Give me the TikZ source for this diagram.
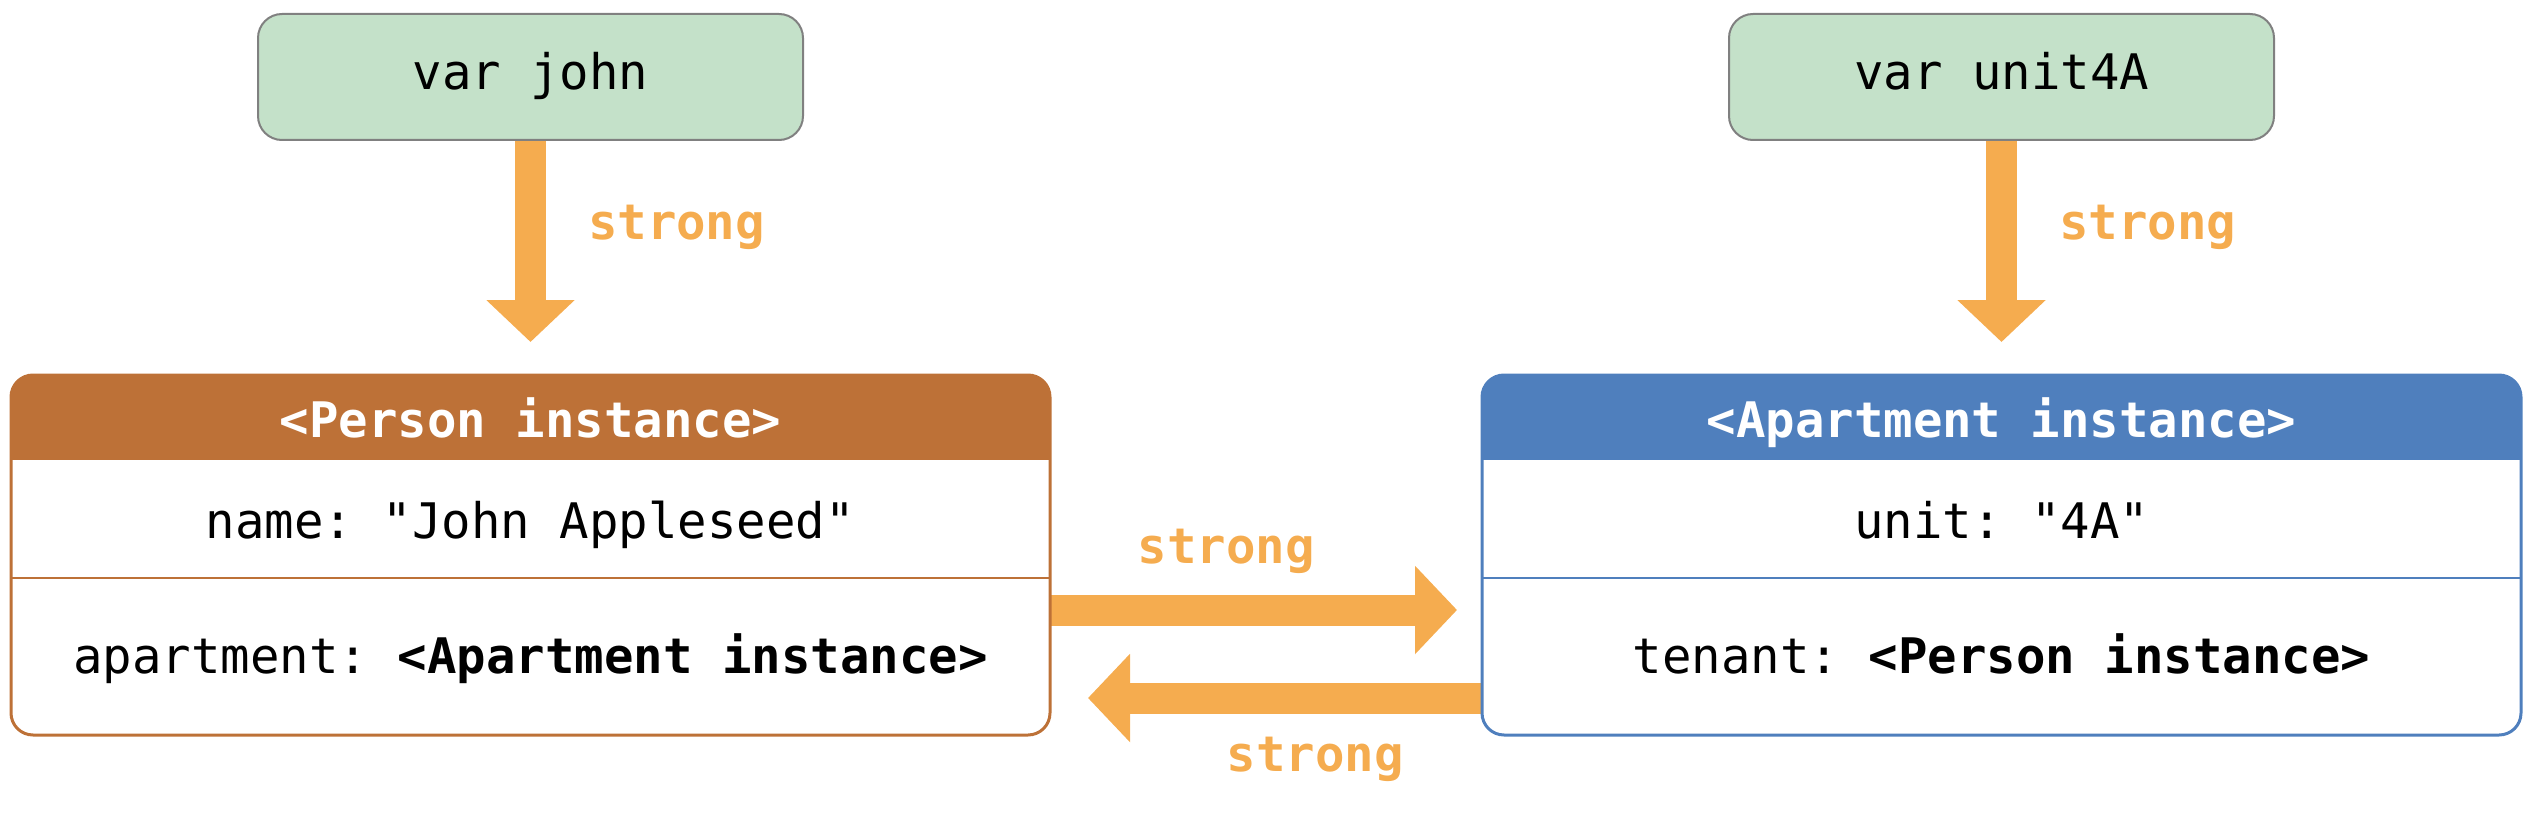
\documentclass[tikz,border=0pt]{standalone}
\usepackage{fontspec}
\setmonofont{DejaVu Sans Mono}
\usetikzlibrary{arrows.meta,calc,backgrounds}
\definecolor{vgreen}{HTML}{C4E1C9}
\definecolor{vgray}{HTML}{808080}
\definecolor{aorange}{HTML}{F5AC4F}
\definecolor{pbrown}{HTML}{BD7137}
\definecolor{ablue}{HTML}{4F7FBD}
\begin{document}
\begin{tikzpicture}[x=1pt,y=-1pt,
  every node/.style={font=\ttfamily\fontsize{49}{58}\selectfont, inner sep=0pt, outer sep=0pt},
  varbox/.style={draw=vgray, line width=2pt, fill=vgreen, rounded corners=24pt, minimum width=545pt, minimum height=126pt, text height=36pt, text depth=11pt},
  objbox/.style={line width=3pt, rounded corners=22pt, minimum width=1039pt, minimum height=360pt},
  ref/.style={draw=aorange, line width=31pt, -{Triangle[width=86pt,length=42pt]}},
  lbl/.style={text=aorange, font=\ttfamily\bfseries\fontsize{49}{58}\selectfont},
  hdr/.style={text=white, anchor=base, font=\ttfamily\bfseries\fontsize{49}{58}\selectfont},
  row/.style={anchor=base},
]
\useasboundingbox (0,0) rectangle (2532,832);
\node[varbox] (john) at (530.5,77) {var john};
\node[varbox] (unit) at (2001.5,77) {var unit4A};
\node[objbox] (person) at (530.5,555) {};
\node[objbox] (apt) at (2001.5,555) {};
% headers
\begin{scope}
\clip[rounded corners=22pt] (person.north west) rectangle (person.south east);
\fill[pbrown] (person.north west) rectangle ($(person.north east)+(0,85)$);
\end{scope}
\begin{scope}
\clip[rounded corners=22pt] (apt.north west) rectangle (apt.south east);
\fill[ablue] (apt.north west) rectangle ($(apt.north east)+(0,85)$);
\end{scope}
\draw[pbrown, line width=3pt, rounded corners=22pt] (person.north west) rectangle (person.south east);
\draw[ablue, line width=3pt, rounded corners=22pt] (apt.north west) rectangle (apt.south east);
\draw[pbrown, line width=2.5pt] ($(person.north west)+(0,203)$) -- ($(person.north east)+(0,203)$);
\draw[ablue, line width=2.5pt] ($(apt.north west)+(0,203)$) -- ($(apt.north east)+(0,203)$);
% texts
\node[hdr] (ph) at (530.5,437) {<Person instance>};
\node[row] (pname) at (530.5,538) {name: "John Appleseed"};
\node[row] (papt) at (530.5,673) {apartment: \textbf{<Apartment instance>}};
\node[hdr] (ah) at (2001.5,437) {<Apartment instance>};
\node[row] (aunit) at (2001.5,538) {unit: "4A"};
\node[row] (aten) at (2001.5,673) {tenant: \textbf{<Person instance>}};
% arrows
\coordinate (r1) at (0,610);
\coordinate (l1) at (0,698);
\begin{scope}[on background layer]
\draw[ref, shorten >=33pt] (john.south) -- (john.south |- person.north);
\draw[ref, shorten >=33pt] (unit.south) -- (unit.south |- apt.north);
\draw[ref, shorten >=25pt] (person.east |- r1) -- (apt.west |- r1);
\draw[ref, shorten >=38pt] (apt.west |- l1) -- (person.east |- l1);
\end{scope}
% labels
\node[lbl, anchor=base west] (s1) at (588,239) {strong};
\node[lbl, anchor=base west] (s2) at (2059,239) {strong};
\node[lbl, anchor=base] (s3) at (1226,563) {strong};
\node[lbl, anchor=base] (s4) at (1315,771) {strong};
\end{tikzpicture}
\end{document}
